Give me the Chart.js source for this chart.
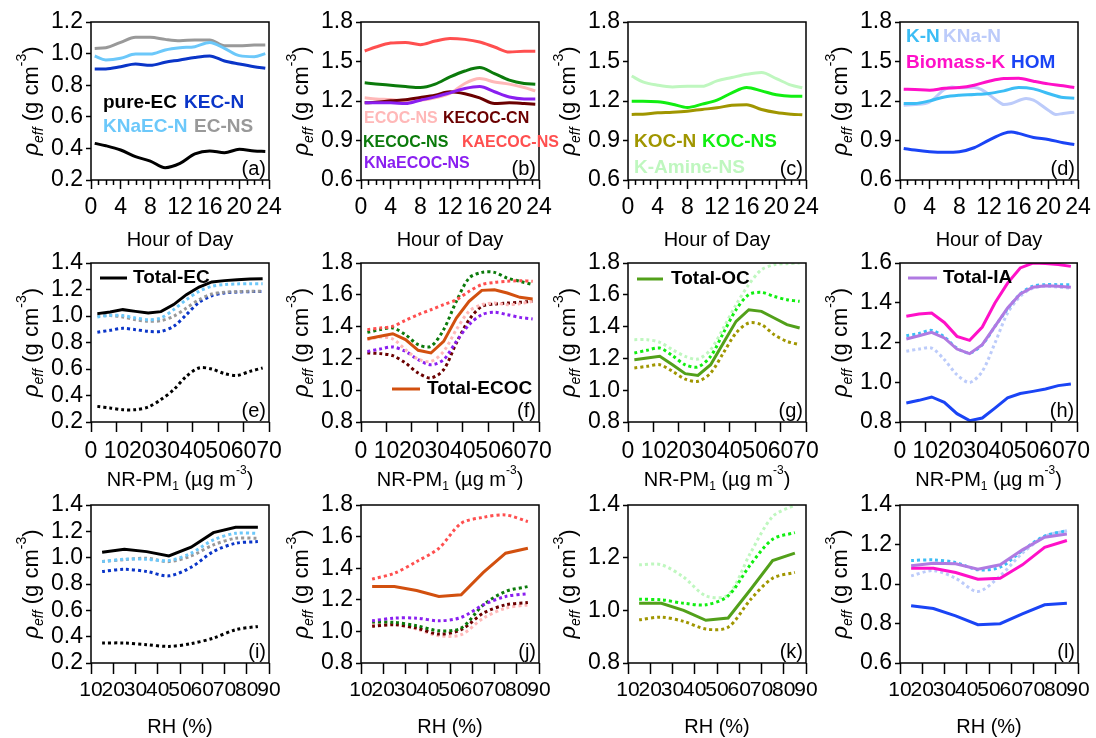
<!DOCTYPE html>
<html><head><meta charset="utf-8">
<script src="https://cdn.jsdelivr.net/npm/chart.js@4.4.0/dist/chart.umd.min.js"></script>
<style>
html,body{margin:0;padding:0;background:#fff;}
#wrap{position:relative;width:1096px;height:738px;overflow:hidden;}
#wrap canvas{position:absolute;left:0;top:0;}
</style></head><body><div id="wrap"></div>
<script>
// ---------- x positions ----------
const hrs = [0.5,2,4,6,8,10,12,14,16,18,20,22,23.5];
const hrsKNaN = [0.5,2,4,6,7,8,10,11,13,14,15,17,18,20,21,22,23.5];
const hrsHOM = [0.5,2,4,6,8,10,12,14,15,16,18,20,22,23.5];
const pm = [2.5,7.5,12.5,17.5,22.5,27.5,32.5,37.5,42.5,47.5,52.5,57.5,62.5,67.5];
const rh = [15,25,35,45,55,65,75,85];

// ---------- tick labels ----------
const hourTicks = [0,4,8,12,16,20,24];
const pmTicks = [0,10,20,30,40,50,60,70];
const rhTicks = [10,20,30,40,50,60,70,80,90];
const yTicks02_12 = [0.2,0.4,0.6,0.8,1.0,1.2];
const yTicks06_18 = [0.6,0.9,1.2,1.5,1.8];
const yTicks02_14 = [0.2,0.4,0.6,0.8,1.0,1.2,1.4];
const yTicks08_18 = [0.8,1.0,1.2,1.4,1.6,1.8];
const yTicks08_16 = [0.8,1.0,1.2,1.4,1.6];
const yTicks08_14 = [0.8,1.0,1.2,1.4];
const yTicks06_14 = [0.6,0.8,1.0,1.2,1.4];

// ---------- (a) ----------
const pureEC_h  = [0.432,0.417,0.39,0.348,0.32,0.278,0.305,0.365,0.384,0.373,0.394,0.384,0.38];
const KECN_h    = [0.903,0.903,0.917,0.934,0.926,0.945,0.96,0.976,0.985,0.953,0.934,0.917,0.907];
const KNaECN_h  = [0.985,0.96,0.97,0.997,0.997,1.023,1.037,1.044,1.07,1.033,0.987,0.98,1.0];
const ECNS_h    = [1.033,1.037,1.071,1.103,1.103,1.09,1.082,1.086,1.086,1.05,1.05,1.054,1.054];
// ---------- (b) ----------
const KAECOCNS_h = [1.58,1.61,1.64,1.645,1.628,1.655,1.675,1.668,1.648,1.61,1.572,1.578,1.578];
const KECOCNS_h  = [1.338,1.33,1.32,1.31,1.302,1.328,1.383,1.428,1.454,1.408,1.358,1.333,1.328];
const ECOCNS_h   = [1.224,1.216,1.211,1.201,1.206,1.224,1.257,1.333,1.37,1.345,1.328,1.302,1.277];
const KECOCCN_h  = [1.186,1.19,1.201,1.21,1.226,1.244,1.27,1.255,1.224,1.181,1.186,1.181,1.176];
const KNaECOCNS_h= [1.186,1.186,1.186,1.181,1.206,1.231,1.262,1.295,1.31,1.27,1.23,1.216,1.216];
// ---------- (c) ----------
const KAmineNS_h = [1.39,1.345,1.32,1.307,1.312,1.312,1.353,1.378,1.403,1.416,1.37,1.32,1.3];
const KOCNS_h    = [1.199,1.199,1.194,1.176,1.151,1.176,1.206,1.262,1.302,1.277,1.247,1.236,1.236];
const KOCN_h     = [1.098,1.1,1.11,1.115,1.123,1.136,1.148,1.168,1.172,1.135,1.112,1.1,1.095];
// ---------- (d) ----------
const biomassK_h = [1.29,1.287,1.282,1.297,1.302,1.32,1.35,1.37,1.372,1.35,1.33,1.315,1.302];
const KN_h       = [1.181,1.181,1.201,1.231,1.244,1.249,1.257,1.277,1.302,1.292,1.257,1.226,1.221];
const KNaN_h     = [1.168,1.173,1.194,1.287,1.307,1.3,1.302,1.287,1.206,1.173,1.181,1.219,1.206,1.13,1.098,1.105,1.115];
const HOM_h      = [0.84,0.827,0.815,0.81,0.815,0.845,0.903,0.954,0.964,0.954,0.923,0.908,0.883,0.87];

// ---------- (e) ----------
const totalEC_pm = [1.018,1.03,1.048,1.035,1.023,1.033,1.086,1.161,1.219,1.257,1.267,1.274,1.279,1.282];
const KNaECN_pm  = [0.993,1.005,1.003,0.985,0.972,0.985,1.048,1.123,1.186,1.224,1.237,1.242,1.244,1.244];
const ECNS_pm    = [1.003,1.003,0.993,0.972,0.96,0.965,0.998,1.06,1.123,1.166,1.179,1.184,1.186,1.186];
const KECN_pm    = [0.877,0.892,0.907,0.897,0.884,0.884,0.922,1.01,1.103,1.153,1.174,1.181,1.184,1.186];
const pureEC_pm  = [0.318,0.306,0.293,0.293,0.313,0.369,0.444,0.545,0.608,0.6,0.565,0.552,0.582,0.608];
// ---------- (f) ----------
const totalECOC_pm = [1.324,1.339,1.355,1.318,1.251,1.234,1.307,1.454,1.559,1.628,1.632,1.611,1.584,1.573];
const KAECOCNS_pm  = [1.381,1.391,1.402,1.439,1.475,1.506,1.538,1.569,1.622,1.664,1.678,1.685,1.689,1.685];
const KECOCNS_pm   = [1.364,1.381,1.391,1.349,1.286,1.276,1.381,1.559,1.705,1.741,1.741,1.705,1.685,1.664];
const ECOCNS_pm    = [1.318,1.334,1.322,1.255,1.196,1.181,1.244,1.381,1.496,1.538,1.548,1.538,1.544,1.559];
const KNaECOCNS_pm = [1.244,1.259,1.272,1.244,1.192,1.16,1.192,1.307,1.412,1.475,1.49,1.475,1.458,1.448];
const KECOCCN_pm   = [1.234,1.23,1.217,1.171,1.108,1.077,1.129,1.297,1.443,1.527,1.542,1.548,1.553,1.559];
// ---------- (g) ----------
const totalOC_pm  = [1.192,1.202,1.213,1.16,1.104,1.093,1.16,1.297,1.433,1.506,1.496,1.454,1.412,1.391];
const KOCNS_pm    = [1.234,1.251,1.265,1.217,1.16,1.146,1.213,1.36,1.506,1.601,1.615,1.59,1.569,1.559];
const KAmineNS_pm = [1.318,1.318,1.301,1.255,1.213,1.196,1.255,1.391,1.538,1.664,1.758,1.789,1.796,1.8];
const KOCN_pm     = [1.14,1.15,1.16,1.119,1.07,1.056,1.108,1.234,1.36,1.423,1.412,1.349,1.307,1.286];
// ---------- (h) ----------
const biomassK_pm = [1.332,1.343,1.348,1.301,1.231,1.211,1.278,1.399,1.499,1.575,1.6,1.597,1.592,1.583];
const totalIA_pm  = [1.218,1.234,1.251,1.223,1.167,1.144,1.189,1.281,1.374,1.444,1.478,1.486,1.483,1.478];
const KN_pm       = [1.234,1.245,1.261,1.228,1.172,1.147,1.189,1.281,1.369,1.444,1.483,1.491,1.491,1.491];
const KNaN_pm     = [1.156,1.167,1.172,1.114,1.038,0.999,1.055,1.197,1.348,1.432,1.474,1.483,1.479,1.474];
const HOM_pm      = [0.896,0.909,0.926,0.899,0.842,0.807,0.82,0.87,0.921,0.943,0.954,0.966,0.983,0.991];

// ---------- (i) ----------
const totalEC_rh = [1.041,1.064,1.046,1.013,1.079,1.19,1.231,1.231];
const KNaECN_rh  = [0.97,0.988,0.988,0.978,1.034,1.135,1.185,1.185];
const ECNS_rh    = [0.97,0.985,0.996,0.97,1.013,1.097,1.147,1.147];
const KECN_rh    = [0.895,0.912,0.895,0.862,0.927,1.046,1.109,1.122];
const pureEC_rh  = [0.352,0.352,0.339,0.326,0.347,0.389,0.453,0.478];
// ---------- (j) ----------
const totalECOC_rh = [1.284,1.284,1.259,1.221,1.232,1.373,1.495,1.526];
const KAECOCNS_rh  = [1.331,1.368,1.442,1.526,1.684,1.722,1.737,1.695];
const KECOCNS_rh   = [1.059,1.057,1.036,1.004,1.021,1.168,1.253,1.284];
const KNaECOCNS_rh = [1.067,1.084,1.084,1.067,1.088,1.168,1.221,1.238];
const KECOCCN_rh   = [1.032,1.042,1.021,0.983,1.011,1.116,1.168,1.183];
const ECOCNS_rh    = [1.042,1.048,1.015,0.973,0.979,1.084,1.147,1.168];
// ---------- (k) ----------
const totalOC_rh  = [1.027,1.027,1.0,0.962,0.971,1.078,1.189,1.217];
const KOCNS_rh    = [1.042,1.04,1.027,1.021,1.055,1.173,1.27,1.295];
const KAmineNS_rh = [1.173,1.173,1.126,1.055,1.059,1.217,1.356,1.4];
const KOCN_rh     = [0.964,0.974,0.958,0.929,0.936,1.04,1.122,1.144];
// ---------- (l) ----------
const totalIA_rh  = [1.092,1.105,1.102,1.075,1.097,1.173,1.237,1.253];
const KN_rh       = [1.119,1.122,1.109,1.072,1.085,1.169,1.243,1.27];
const biomassK_rh = [1.08,1.08,1.058,1.024,1.029,1.097,1.186,1.22];
const KNaN_rh     = [1.041,1.068,1.029,0.962,1.041,1.156,1.24,1.27];
const HOM_rh      = [0.89,0.876,0.839,0.794,0.799,0.849,0.895,0.903];

// ---------- styling ----------
const FONT = '"Liberation Sans", Arial, Helvetica, sans-serif';
const C = {
  pureEC:'#000000', KECN:'#0a35c8', KNaECN:'#6cc8fa', ECNS:'#999999',
  ECOCNS:'#ffb8b8', KECOCCN:'#6b0000', KECOCNS:'#0b7a0b', KAECOCNS:'#ff4f4f', KNaECOCNS:'#8a1ff0',
  KOCN:'#a09600', KOCNS:'#11ee11', KAmineNS:'#bff7bf',
  KN:'#3cbdf5', KNaN:'#bccbfa', biomassK:'#ff10c8', HOM:'#1a44f5',
  totalEC:'#000000', totalECOC:'#d2500f', totalOC:'#52a01a', totalIA:'#b07ae2'
};

const colL = [91,361,628,900], colR = [269,539,806,1078];
const rowT = [22,263,505], rowB = [180,422,663];

function S(x,y,color,dotted){ return {x,y,color,dotted:!!dotted}; }

const panels = [
 {r:0,c:0,label:'(a)',xk:'h',ymin:0.2,ymax:1.2,yt:yTicks02_12,
  series:[S(hrs,pureEC_h,C.pureEC),S(hrs,KECN_h,C.KECN),S(hrs,KNaECN_h,C.KNaECN),S(hrs,ECNS_h,C.ECNS)],
  legend:[{t:'pure-EC',c:C.pureEC,x:103,y:103},{t:'KEC-N',c:C.KECN,x:184,y:103},{t:'KNaEC-N',c:C.KNaECN,x:103,y:127},{t:'EC-NS',c:C.ECNS,x:194,y:127}]},
 {r:0,c:1,label:'(b)',xk:'h',ymin:0.6,ymax:1.8,yt:yTicks06_18,fs:16,
  series:[S(hrs,KAECOCNS_h,C.KAECOCNS),S(hrs,KNaECOCNS_h,C.KNaECOCNS),S(hrs,KECOCCN_h,C.KECOCCN),S(hrs,ECOCNS_h,C.ECOCNS),S(hrs,KECOCNS_h,C.KECOCNS)],
  legend:[{t:'ECOC-NS',c:C.ECOCNS,x:364,y:119},{t:'KECOC-CN',c:C.KECOCCN,x:443,y:119},{t:'KECOC-NS',c:C.KECOCNS,x:363,y:143},{t:'KAECOC-NS',c:C.KAECOCNS,x:462,y:143},{t:'KNaECOC-NS',c:C.KNaECOCNS,x:364,y:164}]},
 {r:0,c:2,label:'(c)',xk:'h',ymin:0.6,ymax:1.8,yt:yTicks06_18,
  series:[S(hrs,KOCN_h,C.KOCN),S(hrs,KOCNS_h,C.KOCNS),S(hrs,KAmineNS_h,C.KAmineNS)],
  legend:[{t:'KOC-N',c:C.KOCN,x:634,y:142},{t:'KOC-NS',c:C.KOCNS,x:702,y:142},{t:'K-Amine-NS',c:C.KAmineNS,x:634,y:168}]},
 {r:0,c:3,label:'(d)',xk:'h',ymin:0.6,ymax:1.8,yt:yTicks06_18,
  series:[S(hrs,biomassK_h,C.biomassK),S(hrs,KN_h,C.KN),S(hrsKNaN,KNaN_h,C.KNaN),S(hrsHOM,HOM_h,C.HOM)],
  legend:[{t:'K-N',c:C.KN,x:906,y:37},{t:'KNa-N',c:C.KNaN,x:943,y:37},{t:'Biomass-K',c:C.biomassK,x:906,y:63},{t:'HOM',c:C.HOM,x:1011,y:63}]},

 {r:1,c:0,label:'(e)',xk:'pm',ymin:0.2,ymax:1.4,yt:yTicks02_14,
  series:[S(pm,totalEC_pm,C.totalEC),S(pm,KNaECN_pm,C.KNaECN,1),S(pm,ECNS_pm,C.ECNS,1),S(pm,KECN_pm,C.KECN,1),S(pm,pureEC_pm,C.pureEC,1)],
  legend:[{t:'Total-EC',c:'#000',x:133,y:278,line:[100,127],lc:C.totalEC}]},
 {r:1,c:1,label:'(f)',xk:'pm',ymin:0.8,ymax:1.8,yt:yTicks08_18,
  series:[S(pm,totalECOC_pm,C.totalECOC),S(pm,KAECOCNS_pm,C.KAECOCNS,1),S(pm,KECOCNS_pm,C.KECOCNS,1),S(pm,ECOCNS_pm,C.ECOCNS,1),S(pm,KNaECOCNS_pm,C.KNaECOCNS,1),S(pm,KECOCCN_pm,C.KECOCCN,1)],
  legend:[{t:'Total-ECOC',c:'#000',x:427,y:389,line:[392,420],lc:C.totalECOC}]},
 {r:1,c:2,label:'(g)',xk:'pm',ymin:0.8,ymax:1.8,yt:yTicks08_18,
  series:[S(pm,totalOC_pm,C.totalOC),S(pm,KOCNS_pm,C.KOCNS,1),S(pm,KAmineNS_pm,C.KAmineNS,1),S(pm,KOCN_pm,C.KOCN,1)],
  legend:[{t:'Total-OC',c:'#000',x:671,y:279,line:[637,663],lc:C.totalOC}]},
 {r:1,c:3,label:'(h)',xk:'pm',ymin:0.8,ymax:1.6,yt:yTicks08_16,
  series:[S(pm,biomassK_pm,C.biomassK),S(pm,totalIA_pm,C.totalIA),S(pm,KN_pm,C.KN,1),S(pm,KNaN_pm,C.KNaN,1),S(pm,HOM_pm,C.HOM)],
  legend:[{t:'Total-IA',c:'#000',x:943,y:278,line:[908,937],lc:C.totalIA}]},

 {r:2,c:0,label:'(i)',xk:'rh',ymin:0.2,ymax:1.4,yt:yTicks02_14,
  series:[S(rh,totalEC_rh,C.totalEC),S(rh,KNaECN_rh,C.KNaECN,1),S(rh,ECNS_rh,C.ECNS,1),S(rh,KECN_rh,C.KECN,1),S(rh,pureEC_rh,C.pureEC,1)],legend:[]},
 {r:2,c:1,label:'(j)',xk:'rh',ymin:0.8,ymax:1.8,yt:yTicks08_18,
  series:[S(rh,totalECOC_rh,C.totalECOC),S(rh,KAECOCNS_rh,C.KAECOCNS,1),S(rh,KNaECOCNS_rh,C.KNaECOCNS,1),S(rh,KECOCNS_rh,C.KECOCNS,1),S(rh,KECOCCN_rh,C.KECOCCN,1),S(rh,ECOCNS_rh,C.ECOCNS,1)],legend:[]},
 {r:2,c:2,label:'(k)',xk:'rh',ymin:0.8,ymax:1.4,yt:yTicks08_14,
  series:[S(rh,totalOC_rh,C.totalOC),S(rh,KOCNS_rh,C.KOCNS,1),S(rh,KAmineNS_rh,C.KAmineNS,1),S(rh,KOCN_rh,C.KOCN,1)],legend:[]},
 {r:2,c:3,label:'(l)',xk:'rh',ymin:0.6,ymax:1.4,yt:yTicks06_14,
  series:[S(rh,totalIA_rh,C.totalIA),S(rh,KN_rh,C.KN,1),S(rh,biomassK_rh,C.biomassK),S(rh,KNaN_rh,C.KNaN,1),S(rh,HOM_rh,C.HOM)],legend:[]}
];

const xKinds = {
  h:  {min:0, max:24, ticks:hourTicks, minor:1, tl:9, pad:5, fsz:23, title:[{t:'Hour of Day'}], tOff:60},
  pm: {min:0, max:70, ticks:pmTicks, minor:0, tl:10, pad:6, fsz:23, title:[{t:'NR-PM'},{t:'1',sub:1},{t:' (\u00b5g m'},{t:'-3',sup:1},{t:')'}], tOff:58},
  rh: {min:10, max:90, ticks:rhTicks, minor:0, tl:11, pad:4, fsz:21, title:[{t:'RH (%)'}], tOff:64}
};
const yTitle = [{t:'\u03c1',it:1},{t:'eff',it:1,sub:1},{t:' (g cm'},{t:'-3',sup:1},{t:')'}];

function drawRich(ctx, segs, cx, cy, size, rot){
  ctx.save(); ctx.translate(cx,cy); if(rot) ctx.rotate(rot);
  let total=0;
  const items = segs.map(s=>{
    const sz = (s.sub||s.sup)? Math.round(size*0.62): size;
    const f = (s.it?'italic ':'')+sz+'px '+FONT;
    ctx.font=f; const w=ctx.measureText(s.t).width; total+=w;
    return {s,f,w,dy: s.sub? size*0.32 : (s.sup? -size*0.45 : 0)};
  });
  let x=-total/2;
  ctx.textAlign='left'; ctx.textBaseline='middle'; ctx.fillStyle='#000';
  items.forEach(it=>{ ctx.font=it.f; ctx.fillText(it.s.t,x,it.dy); x+=it.w; });
  ctx.restore();
}

const deco = {
  id:'deco',
  afterDraw(chart, args, o){
    const ctx=chart.ctx, a=chart.chartArea, xs=chart.scales.x;
    ctx.save();
    ctx.strokeStyle='#000'; ctx.lineWidth=1.5;
    ctx.strokeRect(a.left, a.top, a.right-a.left, a.bottom-a.top);
    if(o.minor){
      ctx.lineWidth=1.5; ctx.beginPath();
      for(let v=xs.min; v<=xs.max; v+=o.minor){
        if(o.majors.indexOf(v)>=0) continue;
        const px=Math.round(xs.getPixelForValue(v))+0.5;
        ctx.moveTo(px,a.bottom); ctx.lineTo(px,a.bottom+5);
      }
      ctx.stroke();
    }
    (o.legend||[]).forEach(l=>{
      if(l.line){
        ctx.strokeStyle=l.lc; ctx.lineWidth=3; ctx.beginPath();
        ctx.moveTo(l.line[0],l.y); ctx.lineTo(l.line[1],l.y); ctx.stroke();
      }
      ctx.font='bold '+(o.fs||19)+'px '+FONT; ctx.fillStyle=l.c;
      ctx.textAlign='left'; ctx.textBaseline='middle';
      ctx.fillText(l.t,l.x,l.y);
    });
    ctx.font='20px '+FONT; ctx.fillStyle='#000'; ctx.textAlign='right'; ctx.textBaseline='middle';
    ctx.fillText(o.label, a.right-3, a.bottom-11);
    ctx.restore();
    drawRich(ctx, o.xTitle, (a.left+a.right)/2, a.bottom+o.tOff, 20, 0);
    drawRich(ctx, yTitle, a.left-59, (a.top+a.bottom)/2, 22, -Math.PI/2);
  }
};

const wrap=document.getElementById('wrap');
panels.forEach(p=>{
  const L=colL[p.c], R=colR[p.c], T=rowT[p.r], B=rowB[p.r];
  const xk=xKinds[p.xk];
  const cv=document.createElement('canvas'); cv.width=1096; cv.height=738; wrap.appendChild(cv);
  const smooth = p.r===0;
  const datasets = p.series.map(s=>({
    data: s.x.map((xv,i)=>({x:xv,y:s.y[i]})),
    borderColor:s.color, backgroundColor:s.color, borderWidth:3,
    borderDash: s.dotted? [3,3]:[], borderCapStyle:'butt',
    pointRadius:0, fill:false,
    tension: smooth? 0.4 : (s.dotted? 0.3 : 0),
    cubicInterpolationMode: smooth? 'monotone':'default'
  }));
  const YW=60, XH=50;
  new Chart(cv,{
    type:'line',
    data:{datasets},
    options:{
      responsive:false, animation:false, events:[],
      layout:{padding:{left:L-YW, right:1096-R, top:T, bottom:738-B-XH}},
      plugins:{legend:{display:false}, tooltip:{enabled:false},
        deco:{label:p.label, legend:p.legend, fs:p.fs, minor:xk.minor, majors:xk.ticks, xTitle:xk.title, tOff:xk.tOff}},
      scales:{
        x:{type:'linear', min:xk.min, max:xk.max,
          afterBuildTicks:s=>{ s.ticks = xk.ticks.map(v=>({value:v})); },
          afterFit:s=>{ s.height=XH; },
          ticks:{autoSkip:false, maxRotation:0, minRotation:0, padding:xk.pad, color:'#000',
            font:{family:FONT,size:xk.fsz}, callback:v=>String(v)},
          grid:{display:true, drawOnChartArea:false, drawTicks:true, tickLength:xk.tl, tickWidth:1.5, tickColor:'#000', color:'#000'},
          border:{display:false}},
        y:{type:'linear', min:p.ymin, max:p.ymax,
          afterBuildTicks:s=>{ s.ticks = p.yt.map(v=>({value:v})); },
          afterFit:s=>{ s.width=YW; },
          ticks:{autoSkip:false, padding:3, color:'#000', font:{family:FONT,size:23}, callback:v=>Number(v).toFixed(1)},
          grid:{display:true, drawOnChartArea:false, drawTicks:true, tickLength:5, tickWidth:1.5, tickColor:'#000', color:'#000'},
          border:{display:false}}
      }
    },
    plugins:[deco]
  });
});
</script>
</body></html>
